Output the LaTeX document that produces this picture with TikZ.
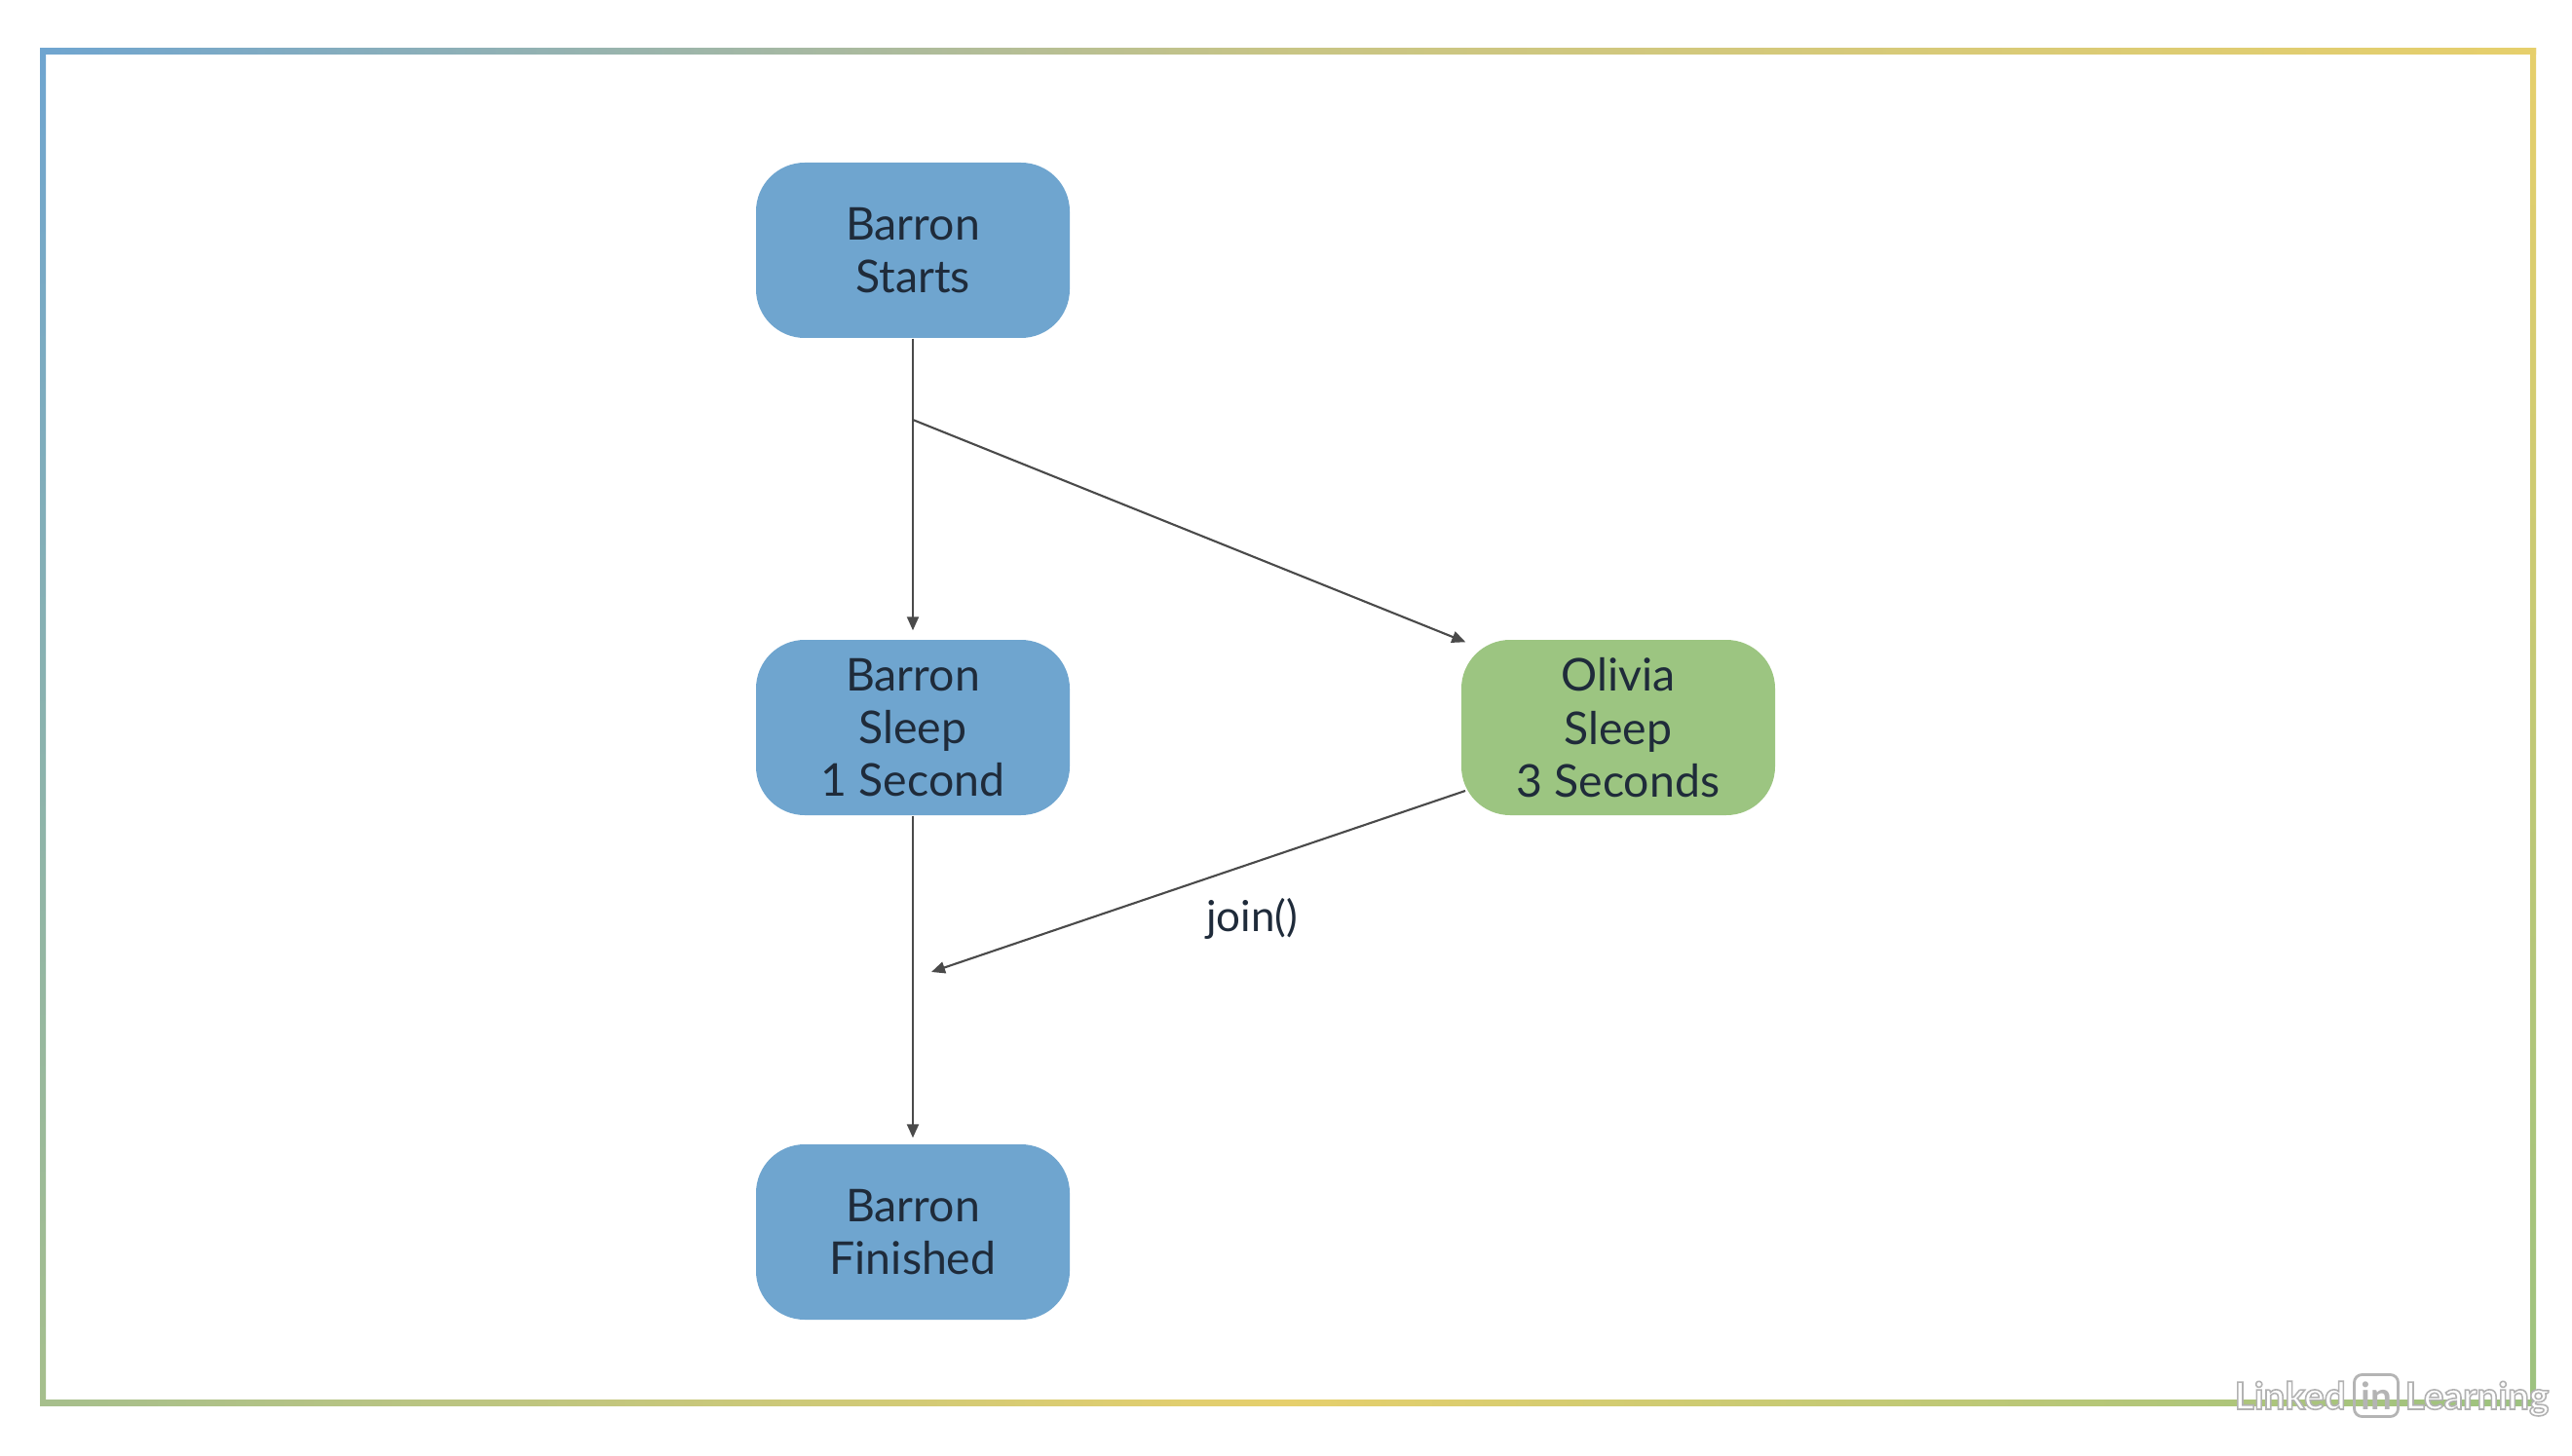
\documentclass[tikz,border=0pt]{standalone}
\usepackage{fontspec}
\setmainfont{Lato}
\usetikzlibrary{arrows.meta,positioning,calc}

\definecolor{barronblue}{HTML}{6FA5CF}
\definecolor{oliviagreen}{HTML}{9CC581}
\definecolor{labelink}{HTML}{1F2B3A}
\definecolor{edgegray}{HTML}{4A4A4A}
\definecolor{frameblue}{HTML}{6FA5D0}
\definecolor{frameyellow}{HTML}{E6CF6C}
\definecolor{framegreen}{HTML}{9CC27F}
\definecolor{frameolive}{HTML}{A6BF8C}
\definecolor{markgray}{HTML}{B4B4B4}

\newcommand{\outlined}[1]{\special{pdf:code 2 Tr 0.45 w 0.7 G 1 g}#1\special{pdf:code 0 Tr 0 g 0 G}}

\begin{document}
\begin{tikzpicture}[
  thread/.style={
    rectangle, minimum width=3.22cm, minimum height=1.8cm, inner sep=0pt,
    align=center, font=\fontsize{13.2}{15.4}\selectfont, rounded corners=0.5cm,
    text=labelink, text depth=-0.03cm
  },
  mainthread/.style={thread, fill=barronblue},
  sidethread/.style={thread, fill=oliviagreen},
  edge/.style={-{Stealth[length=0.14cm,width=0.12cm,inset=0pt]}, line width=0.6pt, draw=edgegray},
  watermark/.style={font=\fontsize{11}{12}\selectfont\bfseries, inner sep=0pt, anchor=base west}
]
\useasboundingbox (0,0) rectangle (26.4,14.94);
\fill[white] (0,0) rectangle (26.4,14.94);

% frame
\shade[left color=frameblue, right color=frameyellow, middle color=frameyellow!75!frameblue]
  (0.41,14.44) rectangle (26.03,14.38);
\shade[left color=frameolive, right color=framegreen, middle color=frameyellow]
  (0.41,0.57) rectangle (26.03,0.51);
\shade[top color=frameblue, bottom color=frameolive] (0.41,14.44) rectangle (0.47,0.51);
\shade[top color=frameyellow, bottom color=framegreen] (25.97,14.44) rectangle (26.03,0.51);

\node[mainthread] (starts) at (9.37,12.37)   {Barron\\Starts};
\node[mainthread] (sleepone) at (9.37,7.47)  {Barron\\Sleep\\1 Second};
\node[mainthread] (finished) at (9.37,2.29)  {Barron\\Finished};
\node[sidethread] (sleepthree) at (16.61,7.47) {Olivia\\Sleep\\3 Seconds};

\coordinate (fork) at (9.37,10.63);
\coordinate (merge) at (9.56,4.96);
\coordinate (joinstart) at (15.04,6.82);
\coordinate (forkend) at ($(sleepthree.north west)+(0.05,-0.03)$);

\draw[edge, shorten >=0.09cm] (starts.south) -- (sleepone.north);
\draw[edge] (fork) -- (forkend);
\draw[edge, shorten >=0.06cm] (sleepone.south) -- (finished.north);
\draw[edge] (joinstart) -- (merge);
\node[font=\fontsize{12.5}{15}\selectfont, text=labelink, inner sep=0pt] (joinlabel) at (12.85,5.51) {join()};

% watermark
\node[watermark] (linked) at (22.93,0.47) {\outlined{Linked}};
\node[watermark] (learning) at (24.68,0.47) {\outlined{Learning}};
\node[draw=markgray, line width=0.8pt, rounded corners=0.08cm, minimum width=0.45cm, minimum height=0.43cm,
  inner sep=0pt, font=\fontsize{11}{12}\selectfont\bfseries, text=markgray] (logo) at (24.39,0.61) {in};
\end{tikzpicture}
\end{document}
